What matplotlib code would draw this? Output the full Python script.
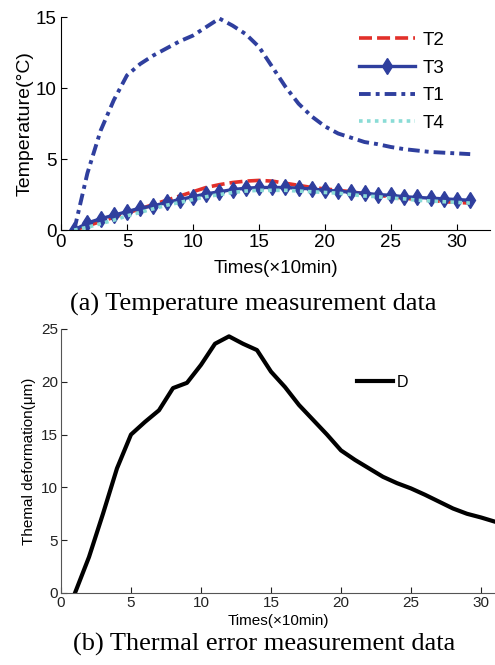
import matplotlib
matplotlib.use("Agg")
import matplotlib.pyplot as plt
import numpy as np

plt.rcParams["font.family"] = ["Liberation Sans", "DejaVu Sans"]

# sampling times (x10 min)
times = np.arange(1, 32)

t1 = [0, 4.0, 7.0, 9.15, 10.9, 11.7, 12.3, 12.8, 13.3, 13.7, 14.3, 14.9, 14.4, 13.8,
      12.9, 11.5, 10.1, 8.9, 8.0, 7.3, 6.8, 6.5, 6.2, 6.05, 5.85, 5.7, 5.6, 5.5,
      5.45, 5.4, 5.35]
t2 = [0, 0.3, 0.6, 0.9, 1.2, 1.5, 1.8, 2.1, 2.4, 2.7, 3.0, 3.2, 3.35, 3.45, 3.5,
      3.45, 3.3, 3.15, 3.0, 2.9, 2.8, 2.7, 2.55, 2.45, 2.35, 2.25, 2.15, 2.1, 2.0,
      1.95, 1.9]
t3 = [0, 0.5, 0.8, 1.05, 1.3, 1.55, 1.7, 1.95, 2.15, 2.35, 2.55, 2.7, 2.85, 2.95,
      3.0, 3.0, 3.0, 2.95, 2.9, 2.8, 2.75, 2.65, 2.6, 2.5, 2.45, 2.35, 2.3, 2.25,
      2.2, 2.15, 2.1]
t4 = [0, 0.2, 0.45, 0.7, 1.0, 1.25, 1.5, 1.75, 1.95, 2.15, 2.35, 2.5, 2.65, 2.75,
      2.8, 2.8, 2.8, 2.75, 2.7, 2.65, 2.6, 2.5, 2.4, 2.35, 2.25, 2.2, 2.1, 2.05,
      2.0, 1.95, 1.9]
deform = [0, 3.4, 7.5, 11.8, 15.0, 16.2, 17.3, 19.4, 19.9, 21.6, 23.6, 24.3, 23.6,
          23.0, 20.96, 19.5, 17.8, 16.4, 15.0, 13.5, 12.6, 11.8, 11.0, 10.4, 9.9,
          9.3, 8.65, 8.0, 7.5, 7.15, 6.75]

blue = "#2f3f9e"
red = "#e2302a"
cyan = "#8adcd6"

fig = plt.figure(figsize=(4.95, 6.65), dpi=100)

# (a) temperatures
ax1 = fig.add_axes([0.1232, 0.654, 0.8667, 0.3203])
ax1.plot(times, t2, color=red, lw=2.6, ls=(0, (3.6, 1.4)), label="T2")
ax1.plot(times, t3, color=blue, lw=2.4, marker="d", ms=8.5, label="T3")
ax1.plot(times, t1, color=blue, lw=2.8, ls=(0, (3, 1.3, 1, 1.3)), label="T1")
ax1.plot(times, t4, color=cyan, lw=2.6, ls=(0, (1, 1.2)), label="T4")
ax1.set_xlim(0, 32.5)
ax1.set_ylim(0, 15)
ax1.set_xticks([0, 5, 10, 15, 20, 25, 30])
ax1.set_yticks([0, 5, 10, 15])
for s in ["top", "right"]:
    ax1.spines[s].set_visible(False)
ax1.tick_params(direction="in", length=4, labelsize=13.5, pad=3)
ax1.set_xlabel("Times(×10min)", fontsize=13.5, labelpad=6)
ax1.set_ylabel("Temperature(°C)", fontsize=14, labelpad=2)
ax1.legend(loc="upper left", bbox_to_anchor=(0.655, 1.01), frameon=False,
           fontsize=13.5, handlelength=3.0, handletextpad=0.38, labelspacing=0.56)

# (b) thermal deformation
ax2 = fig.add_axes([0.1232, 0.1083, 0.8768, 0.397])
ax2.plot(times, deform, color="black", lw=3, label="D")
ax2.set_xlim(0, 31)
ax2.set_ylim(0, 25)
ax2.set_xticks([0, 5, 10, 15, 20, 25, 30])
ax2.set_yticks([0, 5, 10, 15, 20, 25])
for s in ["top", "right"]:
    ax2.spines[s].set_visible(False)
for s in ["left", "bottom"]:
    ax2.spines[s].set_color("#555555")
ax2.tick_params(direction="in", length=4, labelsize=11, colors="#222222", pad=2)
ax2.set_xlabel("Times(×10min)", fontsize=11, labelpad=3)
ax2.set_ylabel("Themal deformation(μm)", fontsize=11, labelpad=4)
ax2.legend(loc="upper left", bbox_to_anchor=(0.65, 0.88), frameon=False,
           fontsize=11.5, handlelength=2.2, handletextpad=0.25)

fig.text(253 / 495, 1 - 304 / 665, "(a) Temperature measurement data", ha="center",
         va="center", family="Liberation Serif", fontsize=19)
fig.text(264 / 495, 1 - 644 / 665, "(b) Thermal error measurement data", ha="center",
         va="center", family="Liberation Serif", fontsize=19)

fig.savefig("out.png", dpi=100)
